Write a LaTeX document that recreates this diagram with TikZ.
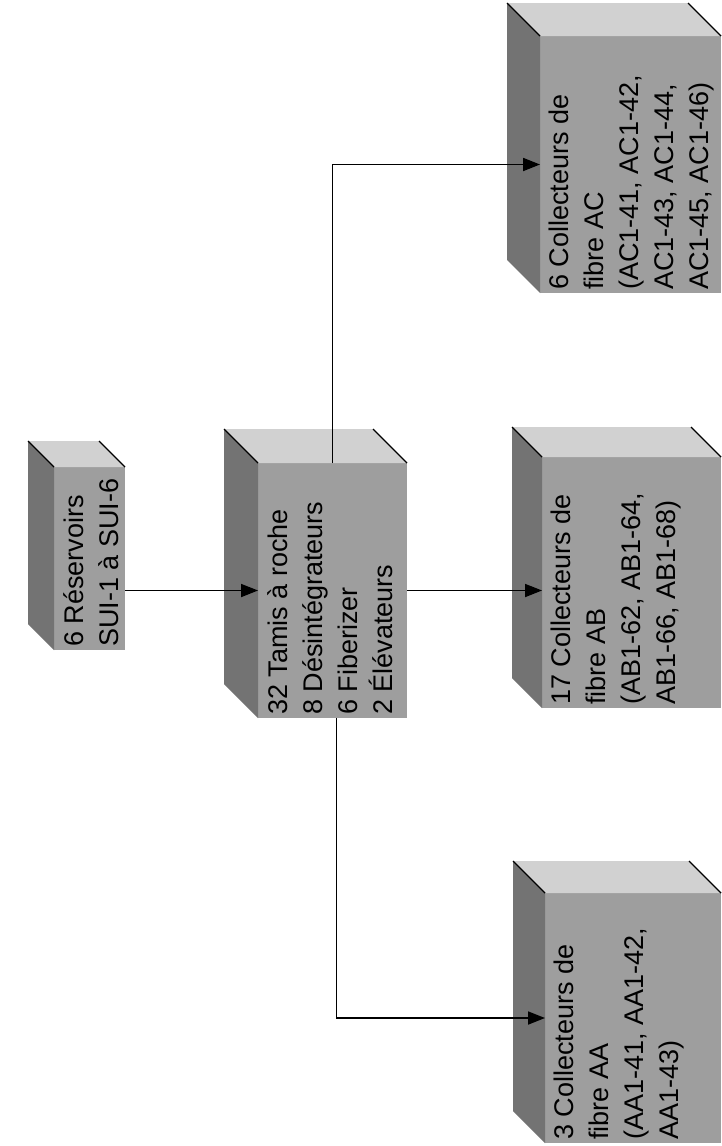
\documentclass[tikz,border=0pt]{standalone}
\usepackage{fontspec}
\setmainfont{Liberation Sans}
\usetikzlibrary{arrows.meta,calc}

\definecolor{frontgray}{gray}{0.62}
\definecolor{sidegray}{gray}{0.45}
\definecolor{topgray}{gray}{0.82}

\begin{document}
\begin{tikzpicture}[x=1pt,y=1pt,
    front/.style={fill=frontgray, inner sep=0pt, outer sep=0pt, anchor=south west},
    txt/.style={rotate=90, anchor=north west, align=left,
      font=\fontsize{27}{35}\selectfont, inner xsep=3pt, inner ysep=9pt},
    conn/.style={line width=1.8pt, -{Triangle[length=17pt,width=13pt]}},
    rim/.style={line width=1.4pt}]
  \fill[white] (0,0) rectangle (722,-1146);
  \useasboundingbox (0,0) rectangle (722,-1146);

  % front faces
  \node[front, minimum width=71pt, minimum height=183pt] (reservoirs) at (54,-650) {};
  \node[front, minimum width=149pt, minimum height=255pt] (tamis) at (258,-718) {};
  \node[front, minimum width=176pt, minimum height=250pt] (collAA) at (545,-1143) {};
  \node[front, minimum width=179pt, minimum height=251pt] (collAB) at (542,-708) {};
  \node[front, minimum width=181pt, minimum height=257pt] (collAC) at (540,-293) {};

  % top and side faces
  \foreach \b/\d in {reservoirs/26,tamis/34,collAA/32,collAB/30,collAC/33}{
    \fill[topgray] (\b.north west) -- ++(-\d,\d) -- ($(\b.north east)+(-\d,\d)$) -- (\b.north east) -- cycle;
    \fill[sidegray] (\b.north west) -- ++(-\d,\d) -- ($(\b.south west)+(-\d,\d)$) -- (\b.south west) -- cycle;
    \draw[rim] (\b.north west) -- ++(-\d,\d);
    \draw[rim] (\b.north east) -- ++(-\d,\d);
  }

  % labels
  \node[txt] (reservoirs-txt) at (reservoirs.south west) {6 Réservoirs\\SUI-1 à SUI-6};
  \node[txt] (tamis-txt) at (tamis.south west) {32 Tamis à roche\\8 Désintégrateurs\\6 Fiberizer\\2 Élévateurs};
  \node[txt] (collAA-txt) at (collAA.south west) {3 Collecteurs de\\fibre AA\\(AA1-41, AA1-42,\\AA1-43)};
  \node[txt] (collAB-txt) at (collAB.south west) {17 Collecteurs de\\fibre AB\\(AB1-62, AB1-64,\\AB1-66, AB1-68)};
  \node[txt] (collAC-txt) at (collAC.south west) {6 Collecteurs de\\fibre AC\\(AC1-41, AC1-42,\\AC1-43, AC1-44,\\AC1-45, AC1-46)};

  % flow
  \draw[conn] (tamis.west -| reservoirs.east) -- (tamis.west);
  \draw[conn] (tamis.east) -- (tamis.east -| collAB.west);
  \draw[conn] (tamis.north) |- (collAC.west);
  \draw[conn] ([xshift=4pt]tamis.south) |- (collAA.west);
\end{tikzpicture}
\end{document}
